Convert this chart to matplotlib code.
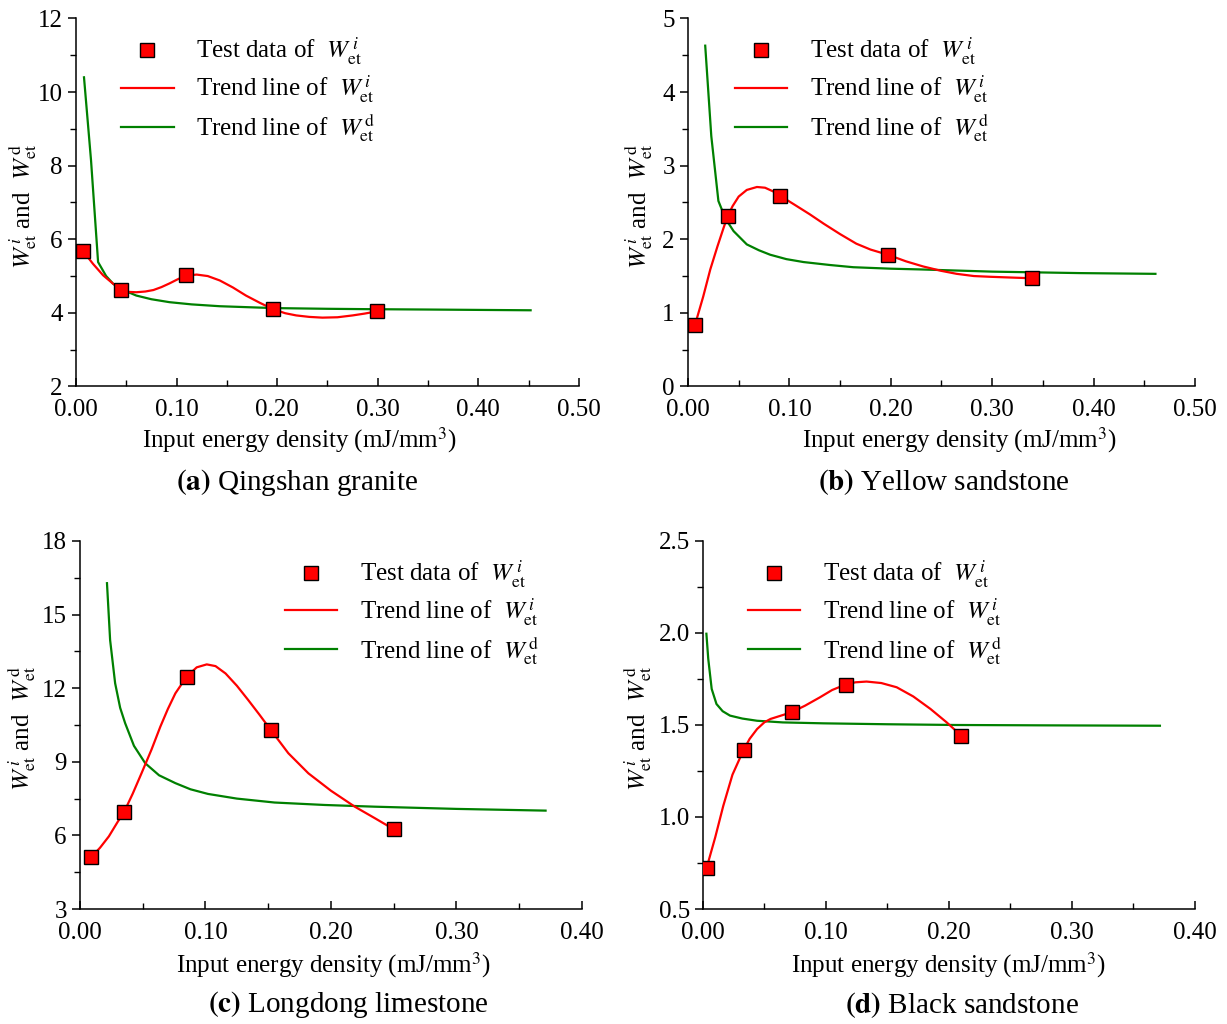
import matplotlib
matplotlib.use("Agg")
import matplotlib.pyplot as plt
from matplotlib.ticker import MultipleLocator, FormatStrFormatter

plt.rcParams["font.family"] = ["Liberation Serif", "DejaVu Serif"]
plt.rcParams["mathtext.fontset"] = "stix"

# (a) Qingshan granite
a_test_x = [0.007, 0.045, 0.109, 0.196, 0.299]
a_test_y = [5.68, 4.63, 5.02, 4.10, 4.04]
a_red_x = [0.007, 0.017, 0.027, 0.037, 0.045, 0.052, 0.060, 0.069, 0.077, 0.085, 0.093,
           0.101, 0.109, 0.120, 0.131, 0.143, 0.156, 0.169, 0.183, 0.196, 0.208, 0.219,
           0.232, 0.245, 0.260, 0.275, 0.287, 0.299]
a_red_y = [5.68, 5.33, 5.02, 4.79, 4.63, 4.57, 4.56, 4.58, 4.62, 4.70, 4.80,
           4.91, 5.01, 5.04, 5.00, 4.88, 4.69, 4.47, 4.27, 4.10, 3.99, 3.93,
           3.89, 3.87, 3.88, 3.93, 3.98, 4.04]
a_green_x = [0.008, 0.015, 0.022, 0.030, 0.037, 0.047, 0.060, 0.075, 0.093, 0.115,
             0.143, 0.196, 0.250, 0.292, 0.350, 0.400, 0.452]
a_green_y = [10.40, 8.14, 5.38, 5.00, 4.79, 4.62, 4.47, 4.37, 4.29, 4.23,
             4.18, 4.13, 4.11, 4.10, 4.09, 4.08, 4.07]

# (b) Yellow sandstone
b_test_x = [0.007, 0.039, 0.091, 0.197, 0.339]
b_test_y = [0.84, 2.31, 2.59, 1.79, 1.47]
b_red_x = [0.007, 0.015, 0.022, 0.029, 0.035, 0.039, 0.044, 0.050, 0.058, 0.068,
           0.076, 0.084, 0.091, 0.105, 0.120, 0.134, 0.150, 0.166, 0.180, 0.197,
           0.215, 0.232, 0.250, 0.265, 0.282, 0.298, 0.318, 0.339]
b_red_y = [0.84, 1.22, 1.59, 1.90, 2.15, 2.31, 2.45, 2.58, 2.67, 2.71,
           2.70, 2.65, 2.59, 2.47, 2.34, 2.21, 2.07, 1.94, 1.86, 1.79,
           1.70, 1.63, 1.57, 1.53, 1.50, 1.49, 1.48, 1.47]
b_green_x = [0.017, 0.023, 0.030, 0.037, 0.045, 0.058, 0.070, 0.081, 0.097, 0.114,
             0.140, 0.163, 0.200, 0.229, 0.300, 0.387, 0.461]
b_green_y = [4.63, 3.40, 2.52, 2.28, 2.11, 1.93, 1.85, 1.79, 1.73, 1.69,
             1.65, 1.62, 1.60, 1.59, 1.56, 1.54, 1.53]

# (c) Longdong limestone
c_test_x = [0.009, 0.035, 0.085, 0.152, 0.250]
c_test_y = [5.11, 6.94, 12.47, 10.30, 6.25]
c_red_x = [0.009, 0.016, 0.023, 0.030, 0.035, 0.042, 0.049, 0.057, 0.064, 0.070,
           0.076, 0.085, 0.093, 0.101, 0.108, 0.116, 0.125, 0.134, 0.143, 0.152,
           0.166, 0.182, 0.200, 0.219, 0.235, 0.250]
c_red_y = [5.11, 5.50, 5.96, 6.55, 6.94, 7.70, 8.53, 9.50, 10.43, 11.15,
           11.79, 12.47, 12.85, 12.97, 12.90, 12.60, 12.10, 11.52, 10.92, 10.30,
           9.35, 8.53, 7.82, 7.17, 6.70, 6.25]
c_green_x = [0.0215, 0.024, 0.028, 0.032, 0.036, 0.043, 0.052, 0.063, 0.076, 0.088,
             0.102, 0.125, 0.155, 0.195, 0.235, 0.300, 0.371]
c_green_y = [16.28, 13.96, 12.20, 11.20, 10.57, 9.65, 8.94, 8.45, 8.13, 7.88,
             7.69, 7.50, 7.34, 7.24, 7.17, 7.08, 7.01]

# (d) Black sandstone
d_test_x = [0.003, 0.033, 0.072, 0.116, 0.210]
d_test_y = [0.724, 1.364, 1.569, 1.720, 1.442]
d_red_x = [0.003, 0.010, 0.0165, 0.024, 0.033, 0.038, 0.044, 0.050, 0.055, 0.063,
           0.072, 0.083, 0.095, 0.105, 0.116, 0.124, 0.133, 0.145, 0.1575, 0.171,
           0.185, 0.198, 0.210]
d_red_y = [0.724, 0.890, 1.060, 1.230, 1.364, 1.425, 1.478, 1.515, 1.533, 1.550,
           1.569, 1.605, 1.650, 1.690, 1.720, 1.732, 1.736, 1.728, 1.705, 1.655,
           1.587, 1.515, 1.442]
d_green_x = [0.0028, 0.0043, 0.0071, 0.011, 0.016, 0.022, 0.032, 0.044, 0.065, 0.098,
             0.150, 0.206, 0.280, 0.3715]
d_green_y = [1.996, 1.860, 1.696, 1.614, 1.575, 1.551, 1.535, 1.523, 1.514, 1.509,
             1.504, 1.500, 1.498, 1.496]

titles = ["(a)", "(b)", "(c)", "(d)"]
names = ["Qingshan granite", "Yellow sandstone", "Longdong limestone", "Black sandstone"]

RED = "#FF0000"
GREEN = "#008000"
FS = 18
LW = 1.6

panels = [
    dict(rect=[0.0619, 0.6226, 0.4099, 0.3594], test=(a_test_x, a_test_y),
         red=(a_red_x, a_red_y), green=(a_green_x, a_green_y),
         xlim=(0, 0.5), ylim=(2, 12), ymaj=2, ymin=1, yfmt="%d",
         leg=(0.09, 0.952), xlab=(0.445, -0.147), ylab=-0.074, sub=(297, 482)),
    dict(rect=[0.5607, 0.6226, 0.4132, 0.3594], test=(b_test_x, b_test_y),
         red=(b_red_x, b_red_y), green=(b_green_x, b_green_y),
         xlim=(0, 0.5), ylim=(0, 5), ymaj=1, ymin=0.5, yfmt="%d",
         leg=(0.092, 0.952), xlab=(0.536, -0.147), ylab=-0.065, sub=(944, 482)),
    dict(rect=[0.0652, 0.1123, 0.4091, 0.3594], test=(c_test_x, c_test_y),
         red=(c_red_x, c_red_y), green=(c_green_x, c_green_y),
         xlim=(0, 0.4), ylim=(3, 18), ymaj=3, ymin=1.5, yfmt="%d",
         leg=(0.408, 0.952), xlab=(0.504, -0.152), ylab=-0.084, sub=(348, 1005)),
    dict(rect=[0.5729, 0.1123, 0.4010, 0.3594], test=(d_test_x, d_test_y),
         red=(d_red_x, d_red_y), green=(d_green_x, d_green_y),
         xlim=(0, 0.4), ylim=(0.5, 2.5), ymaj=0.5, ymin=0.25, yfmt="%.1f",
         leg=(0.091, 0.952), xlab=(0.498, -0.152), ylab=-0.1, sub=(962, 1005)),
]

fig = plt.figure(figsize=(12.27, 10.24), dpi=100)

for i, p in enumerate(panels):
    ax = fig.add_axes(p["rect"])
    ax.plot(p["green"][0], p["green"][1], color=GREEN, linewidth=LW, zorder=2)
    ax.plot(p["red"][0], p["red"][1], color=RED, linewidth=LW, zorder=3)
    ax.plot(p["test"][0], p["test"][1], linestyle="none", marker="s", markersize=9.5,
            markerfacecolor=RED, markeredgecolor="black", markeredgewidth=1.0, zorder=4)

    # legend proxies
    h_test, = ax.plot([], [], linestyle="none", marker="s", markersize=9.5,
                      markerfacecolor=RED, markeredgecolor="black", markeredgewidth=1.0)
    h_red, = ax.plot([], [], color=RED, linewidth=LW)
    h_green, = ax.plot([], [], color=GREEN, linewidth=LW)
    ax.legend([h_test, h_red, h_green],
              [r"Test data of  $W_{\mathrm{et}}^{\,i}$",
               r"Trend line of  $W_{\mathrm{et}}^{\,i}$",
               r"Trend line of  $W_{\mathrm{et}}^{\,\mathrm{d}}$"],
              loc="upper left", bbox_to_anchor=p["leg"], frameon=False, fontsize=FS,
              handlelength=2.1, handletextpad=0.9, labelspacing=0.22,
              borderaxespad=0, borderpad=0)

    ax.set_xlim(*p["xlim"])
    ax.set_ylim(*p["ylim"])
    ax.xaxis.set_major_locator(MultipleLocator(0.1))
    ax.xaxis.set_minor_locator(MultipleLocator(0.05))
    ax.xaxis.set_major_formatter(FormatStrFormatter("%.2f"))
    ax.yaxis.set_major_locator(MultipleLocator(p["ymaj"]))
    ax.yaxis.set_minor_locator(MultipleLocator(p["ymin"]))
    ax.yaxis.set_major_formatter(FormatStrFormatter(p["yfmt"]))

    ax.spines["top"].set_visible(False)
    ax.spines["right"].set_visible(False)
    for side in ("left", "bottom"):
        ax.spines[side].set_linewidth(1.1)
    ax.tick_params(axis="x", which="major", direction="in", length=6, width=1.1,
                   labelsize=FS, pad=9)
    ax.tick_params(axis="x", which="minor", direction="in", length=4, width=1.0)
    ax.tick_params(axis="y", which="major", direction="out", length=6, width=1.1,
                   labelsize=FS, pad=3.5)
    ax.tick_params(axis="y", which="minor", direction="out", length=4, width=1.0)

    ax.set_xlabel(r"Input energy density (mJ/mm$^3$)", fontsize=FS)
    ax.xaxis.set_label_coords(*p["xlab"])
    ax.xaxis.label.set_va("center")
    ax.set_ylabel(r"$W_{\mathrm{et}}^{\,i}$ and  $W_{\mathrm{et}}^{\,\mathrm{d}}$", fontsize=FS)
    ax.yaxis.set_label_coords(p["ylab"], 0.49)

    sx, sy = p["sub"]
    fig.text(sx / 1227, 1 - sy / 1024, r"$\mathbf{" + titles[i] + "}$ " + names[i],
             fontsize=21, ha="center", va="center")

fig.savefig("out.png", dpi=100)
